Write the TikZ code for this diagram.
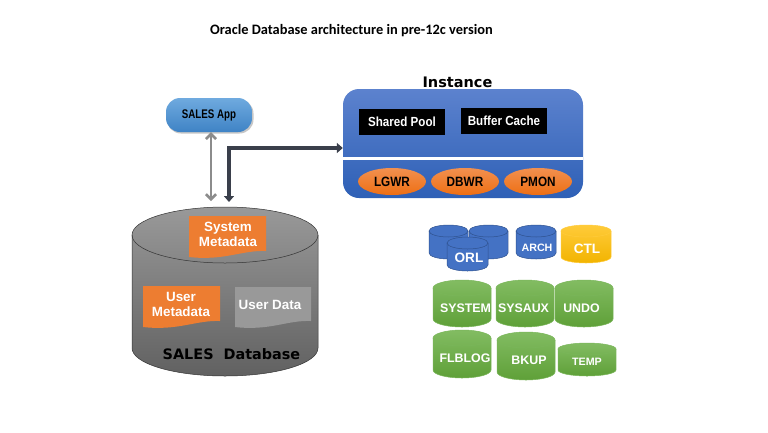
\documentclass[tikz,border=0pt]{standalone}
\usepackage{fontspec}
\setmainfont{Liberation Sans}
\newfontfamily\titlefont{Carlito}
\newfontfamily\widefont{DejaVu Sans}
\usetikzlibrary{arrows.meta,calc,shapes.geometric}
\definecolor{docorange}{HTML}{ED7D31}
\definecolor{arrowdark}{HTML}{3A3F4B}
\definecolor{arrowgrey}{HTML}{8C8C8C}
\definecolor{cylblue}{HTML}{4472C4}
\definecolor{cylblueline}{HTML}{2F528F}
\definecolor{cylgt}{HTML}{82BC62}
\definecolor{cylgb}{HTML}{5FA038}
\definecolor{cylgl}{HTML}{7AB65A}
\definecolor{cylyt}{HTML}{FFCB3A}
\definecolor{cylyb}{HTML}{F2B400}
\definecolor{appt}{HTML}{6FAADF}
\definecolor{appb}{HTML}{3F83C5}
\definecolor{instt}{HTML}{5C82CE}
\definecolor{instb}{HTML}{2E60B6}
\definecolor{orat}{HTML}{F2904F}
\definecolor{orab}{HTML}{EE6F14}
\tikzset{
  x=1pt,y=-1pt,
  lbl/.style={inner sep=0pt,font=\bfseries\fontsize{13.4}{16}\selectfont,text=white,align=center},
  membox/.style={fill=black,minimum width=86pt,minimum height=26pt,inner sep=0pt,text=white,font=\bfseries\fontsize{13.2}{15}\selectfont},
  procell/.style={ellipse,inner sep=0pt,minimum width=68pt,minimum height=27pt,top color=orat,bottom color=orab,font=\bfseries\fontsize{13.5}{15}\selectfont},
  cyllbl/.style={inner sep=0pt,text=white},
  cylbig/.style={cyllbl,font=\bfseries\fontsize{12.4}{15}\selectfont},
  cylsmall/.style={cyllbl,font=\bfseries\fontsize{10.7}{12}\selectfont},
  cylhuge/.style={cyllbl,font=\bfseries\fontsize{13.6}{16}\selectfont},
}
\newcommand{\narrow}[2]{\scalebox{#1}[1]{#2}}
% name, x1, y1, x2, y2, ry, top, bottom, line
\newcommand{\cylshape}[9]{%
  \pgfmathsetmacro{\cxm}{(#2+#4)/2}%
  \pgfmathsetmacro{\crx}{(#4-#2)/2}%
  \pgfmathsetmacro{\cky}{#5-#6+0.5523*#6}%
  \pgfmathsetmacro{\ckx}{0.5523*\crx}%
  \path[top color=#7,bottom color=#8]
    (#2,#3+#6) .. controls (#2,#3+#6-0.5523*#6) and (\cxm-\ckx,#3) .. (\cxm,#3)
    .. controls (\cxm+\ckx,#3) and (#4,#3+#6-0.5523*#6) .. (#4,#3+#6)
    -- (#4,#5-#6) .. controls (#4,\cky) and (\cxm+\ckx,#5) .. (\cxm,#5)
    .. controls (\cxm-\ckx,#5) and (#2,\cky) .. (#2,#5-#6) -- cycle;
  \draw[#9,line width=0.5pt]
    (#2,#3+#6) .. controls (#2,#3+#6-0.5523*#6) and (\cxm-\ckx,#3) .. (\cxm,#3)
    .. controls (\cxm+\ckx,#3) and (#4,#3+#6-0.5523*#6) .. (#4,#3+#6)
    .. controls (#4,#3+#6+0.5523*#6) and (\cxm+\ckx,#3+2*#6) .. (\cxm,#3+2*#6)
    .. controls (\cxm-\ckx,#3+2*#6) and (#2,#3+#6+0.5523*#6) .. (#2,#3+#6) -- cycle;
  \draw[#9,line width=0.5pt] (#2,#3+#6) -- (#2,#5-#6)
    .. controls (#2,\cky) and (\cxm-\ckx,#5) .. (\cxm,#5)
    .. controls (\cxm+\ckx,#5) and (#4,\cky) .. (#4,#5-#6) -- (#4,#3+#6);
  \coordinate (#1) at (\cxm,#3);
}
% x1, y1, x2, y-right, y-left, fill
\newcommand{\docshape}[6]{%
  \fill[#6] (#1,#2) -- (#3,#2) -- (#3,#4)
    .. controls (#3-24,#4-1) and (#1+35,#5+4) .. (#1,#5) -- cycle;
}
\begin{document}
\begin{tikzpicture}
\useasboundingbox (0,0) rectangle (768,432);
\fill[white] (0,0) rectangle (768,432);

\node[inner sep=0pt,font=\titlefont\bfseries\fontsize{14.4}{16}\selectfont] (title) at (351.5,31) {Oracle Database architecture in pre-12c version};

% SALES App
\fill[black!22,rounded corners=14pt] (167,99.5) rectangle (253.5,133.5);
\node[minimum width=86pt,minimum height=34pt,inner sep=0pt,rounded corners=14pt,top color=appt,bottom color=appb,font=\bfseries\fontsize{12.5}{14}\selectfont] (app) at (209,115) {\narrow{.78}{SALES App}};

% Instance
\node[minimum width=240pt,minimum height=109pt,inner sep=0pt,rounded corners=16pt,top color=instt,bottom color=instb] (inst) at (463,143.5) {};
\draw[white,line width=3pt] (inst.west |- 0,158) -- (inst.east |- 0,158);
\node[inner sep=0pt,font=\widefont\bfseries\fontsize{14.5}{16}\selectfont] (insttitle) at (457.5,82) {Instance};
\node[membox] (shared) at (402,122) {\narrow{.88}{Shared Pool}};
\node[membox] (buffer) at (504,121) {\narrow{.88}{Buffer Cache}};
\node[procell] (lgwr) at (392,181.5) {\narrow{.87}{LGWR}};
\node[procell] (dbwr) at (465,181.5) {\narrow{.87}{DBWR}};
\node[procell] (pmon) at (538,181.5) {\narrow{.87}{PMON}};

% Database
\cylshape{db}{132}{207}{318}{376}{28}{black!40}{black!62}{black!80}
\docshape{189}{216}{266}{251}{257}{docorange}
\docshape{143}{286}{220}{321}{327}{docorange}
\docshape{235}{287}{311}{321}{327}{black!40}
\node[lbl] (sysmeta) at (228,234) {System\\[-1pt]Metadata};
\node[lbl] (usermeta) at (181,304) {User\\[-1pt]Metadata};
\node[lbl] (userdata) at (270,305) {User Data};
\node[inner sep=0pt,font=\widefont\bfseries\fontsize{14.4}{16}\selectfont] (dblabel) at (231.5,354) {SALES\hspace{10pt}Database};

% Connectors
\coordinate (dbgrey) at (211,201);
\coordinate (dbdark) at (229,202);
\draw[arrowgrey,line width=2.6pt,{Straight Barb[length=5pt,width=10pt]}-{Straight Barb[length=5pt,width=10pt]}] (app.south -| dbgrey) -- (dbgrey);
\draw[arrowdark,line width=4pt,{Triangle[length=6pt,width=10pt]}-{Triangle[length=6pt,width=10pt]}] (dbdark) -- (dbdark |- 0,148) -- (inst.west |- 0,148);

% Storage cylinders
\cylshape{orla}{429}{225}{468}{259}{6}{cylblue}{cylblue}{cylblueline}
\cylshape{orlb}{469}{225}{508}{259}{6}{cylblue}{cylblue}{cylblueline}
\cylshape{orlc}{447}{237}{488}{271}{6}{cylblue}{cylblue}{cylblueline}
\cylshape{arch}{516}{225}{556}{259}{6}{cylblue}{cylblue}{cylblueline}
\cylshape{ctl}{561}{225}{611}{263}{6}{cylyt}{cylyb}{cylyt}
\cylshape{system}{433}{280}{491}{327}{8}{cylgt}{cylgb}{cylgl}
\cylshape{sysaux}{496}{280}{554}{327}{8}{cylgt}{cylgb}{cylgl}
\cylshape{undo}{555}{280}{613}{327}{8}{cylgt}{cylgb}{cylgl}
\cylshape{flblog}{433}{330}{491}{378}{8}{cylgt}{cylgb}{cylgl}
\cylshape{bkup}{497}{332}{555}{380}{8}{cylgt}{cylgb}{cylgl}
\cylshape{temp}{558}{343}{616}{376}{6}{cylgt}{cylgb}{cylgl}
\node[cylhuge] (orl) at (469,258) {ORL};
\node[cylsmall] (archl) at (537,248) {ARCH};
\node[cylhuge] (ctll) at (587,249) {CTL};
\node[cylbig] (systeml) at (465.5,308) {SYSTEM};
\node[cylbig] (sysauxl) at (523.5,308) {SYSAUX};
\node[cylbig] (undol) at (581.5,308) {UNDO};
\node[cylbig] (flblogl) at (465,358) {FLBLOG};
\node[cylbig] (bkupl) at (529,360) {BKUP};
\node[cylsmall] (templ) at (587,362) {TEMP};
\end{tikzpicture}
\end{document}
